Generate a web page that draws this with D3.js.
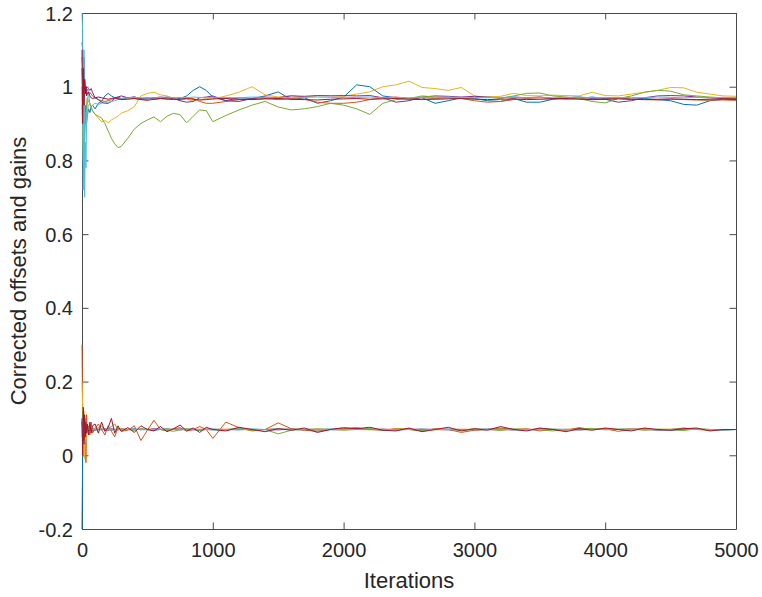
<!DOCTYPE html>
<html>
<head>
<meta charset="utf-8">
<script src="https://cdn.jsdelivr.net/npm/d3@7"></script>
<style>
  html, body { margin: 0; padding: 0; background: #fff; }
  svg { display: block; }
  text { font-family: "Liberation Sans", Arial, Helvetica, sans-serif; fill: #262626; }
</style>
</head>
<body>
<svg id="chart" width="762" height="597"></svg>
<script>
// ---------------- DATA ----------------
const iterations = [
  0, 5, 10, 15, 20, 25, 30, 35, 40, 50, 60, 70, 80, 100, 125, 150, 175, 200, 225, 250, 275, 300,
  350, 400, 450, 500, 550, 600, 650, 700, 750, 800, 850, 900, 950, 1000,
  1100, 1200, 1300, 1400, 1500, 1600, 1700, 1800, 1900, 2000,
  2100, 2200, 2300, 2400, 2500, 2600, 2700, 2800, 2900, 3000,
  3100, 3200, 3300, 3400, 3500, 3600, 3700, 3800, 3900, 4000,
  4100, 4200, 4300, 4400, 4500, 4600, 4700, 4800, 4900, 5000
];

const xTicks = [0, 1000, 2000, 3000, 4000, 5000];
const yTicks = [-0.2, 0, 0.2, 0.4, 0.6, 0.8, 1, 1.2];
const colors = ["#0072BD", "#D95319", "#EDB120", "#7E2F8E", "#77AC30", "#4DBEEE", "#A2142F"];

// gains (upper bundle)
const gainBlue = [
  1.05, 0.98, 0.80, 0.75, 0.85, 0.92, 0.95, 0.90, 0.92, 0.94, 0.93, 0.945, 0.95, 0.94, 0.955, 0.96, 0.975, 0.982, 0.975, 0.97, 0.972, 0.968,
  0.97, 0.972, 0.968, 0.97, 0.966, 0.968, 0.972, 0.97, 0.968, 0.975, 0.99, 1.0, 0.99, 0.972,
  0.962, 0.97, 0.968, 0.975, 0.986, 0.965, 0.97, 0.955, 0.962, 0.972,
  1.005, 1.0, 0.975, 0.97, 0.968, 0.97, 0.955, 0.962, 0.97, 0.968,
  0.962, 0.96, 0.968, 0.958, 0.958, 0.966, 0.97, 0.968, 0.972, 0.968,
  0.97, 0.966, 0.968, 0.965, 0.962, 0.952, 0.95, 0.962, 0.966, 0.965
];
const gainOrange = [
  1.08, 1.05, 1.0, 0.92, 1.02, 1.0, 0.99, 0.98, 0.985, 0.98, 0.985, 0.98, 0.975, 0.97, 0.965, 0.962, 0.96, 0.962, 0.965, 0.97, 0.968, 0.966,
  0.97, 0.968, 0.966, 0.968, 0.97, 0.968, 0.966, 0.968, 0.965, 0.97, 0.968, 0.96, 0.955, 0.955,
  0.96, 0.965, 0.966, 0.968, 0.965, 0.968, 0.966, 0.958, 0.955, 0.955,
  0.958, 0.965, 0.97, 0.972, 0.968, 0.97, 0.968, 0.97, 0.968, 0.962,
  0.958, 0.96, 0.965, 0.968, 0.97, 0.968, 0.966, 0.968, 0.965, 0.966,
  0.968, 0.966, 0.965, 0.964, 0.966, 0.965, 0.964, 0.963, 0.964, 0.963
];
const gainYellow = [
  0.95, 0.9, 0.88, 0.95, 0.92, 0.93, 0.9, 0.91, 0.93, 0.95, 0.955, 0.945, 0.935, 0.925, 0.915, 0.905, 0.908, 0.902, 0.91, 0.915, 0.92, 0.928,
  0.935, 0.946, 0.975, 0.982, 0.985, 0.978, 0.975, 0.968, 0.964, 0.966, 0.962, 0.964, 0.968, 0.966,
  0.975, 0.985, 1.0, 0.978, 0.972, 0.976, 0.972, 0.975, 0.976, 0.974,
  0.98, 0.986, 1.0, 1.005, 1.015, 0.998, 0.995, 0.99, 0.998, 0.975,
  0.972, 0.974, 0.982, 0.976, 0.975, 0.977, 0.976, 0.975, 0.985, 0.976,
  0.975, 0.98, 0.985, 0.99, 0.998, 0.997, 0.985, 0.98, 0.975, 0.974
];
const gainPurple = [
  1.12, 1.1, 1.05, 1.08, 1.02, 0.99, 1.0, 0.985, 0.99, 0.995, 0.99, 0.995, 0.985, 0.97, 0.965, 0.958, 0.955, 0.955, 0.96, 0.968, 0.972, 0.975,
  0.97, 0.972, 0.968, 0.966, 0.97, 0.972, 0.97, 0.968, 0.962, 0.958, 0.96, 0.97, 0.972, 0.975,
  0.962, 0.96, 0.968, 0.972, 0.97, 0.975, 0.974, 0.976, 0.975, 0.976,
  0.975, 0.976, 0.97, 0.958, 0.962, 0.972, 0.975, 0.974, 0.972, 0.974,
  0.972, 0.97, 0.972, 0.97, 0.972, 0.968, 0.97, 0.972, 0.968, 0.966,
  0.958, 0.962, 0.97, 0.975, 0.976, 0.975, 0.972, 0.97, 0.968, 0.968
];
const gainGreen = [
  1.0, 0.85, 0.8, 0.88, 0.95, 0.9, 0.93, 0.95, 0.97, 0.96, 0.955, 0.945, 0.935, 0.925, 0.92, 0.915, 0.9, 0.88, 0.86, 0.845, 0.835, 0.838,
  0.86, 0.885, 0.9, 0.91, 0.918, 0.905, 0.92, 0.928, 0.924, 0.902, 0.92, 0.937, 0.935, 0.905,
  0.922, 0.937, 0.95, 0.96, 0.945, 0.937, 0.94, 0.946, 0.955, 0.95,
  0.94, 0.925, 0.955, 0.965, 0.968, 0.975, 0.972, 0.97, 0.968, 0.97,
  0.972, 0.968, 0.975, 0.982, 0.983, 0.975, 0.972, 0.968, 0.96, 0.956,
  0.968, 0.975, 0.985, 0.99, 0.988, 0.978, 0.975, 0.972, 0.97, 0.97
];
const gainCyan = [
  1.2, 1.15, 0.72, 1.1, 0.7, 0.85, 0.78, 0.9, 0.95, 0.99, 0.95, 0.945, 0.95, 0.955, 0.952, 0.955, 0.956, 0.958, 0.96, 0.962, 0.965, 0.968,
  0.97, 0.971, 0.97, 0.969, 0.97, 0.971, 0.972, 0.97, 0.971, 0.97, 0.972, 0.971, 0.97, 0.971,
  0.971, 0.97, 0.972, 0.971, 0.97, 0.97, 0.971, 0.972, 0.971, 0.97,
  0.971, 0.972, 0.97, 0.971, 0.97, 0.971, 0.97, 0.972, 0.971, 0.97,
  0.97, 0.971, 0.972, 0.97, 0.971, 0.97, 0.971, 0.972, 0.97, 0.971,
  0.97, 0.971, 0.97, 0.972, 0.971, 0.97, 0.971, 0.97, 0.971, 0.97
];
const gainDarkRed = [
  1.1, 0.9, 1.05, 0.95, 1.02, 0.98, 1.0, 0.975, 0.98, 0.985, 0.975, 0.97, 0.968, 0.97, 0.972, 0.97, 0.968, 0.966, 0.968, 0.97, 0.967, 0.965,
  0.966, 0.968, 0.965, 0.963, 0.966, 0.968, 0.967, 0.965, 0.966, 0.968, 0.966, 0.964, 0.965, 0.967,
  0.968, 0.966, 0.965, 0.967, 0.968, 0.966, 0.965, 0.964, 0.966, 0.967,
  0.968, 0.966, 0.967, 0.968, 0.966, 0.965, 0.966, 0.967, 0.968, 0.966,
  0.965, 0.966, 0.967, 0.965, 0.966, 0.967, 0.968, 0.966, 0.965, 0.966,
  0.967, 0.966, 0.965, 0.966, 0.967, 0.966, 0.965, 0.966, 0.967, 0.966
];

// offsets (lower bundle)
const offsetBlue = [
  -0.2, 0.0, 0.1, 0.05, 0.08, 0.06, 0.075, 0.065, 0.07, 0.068, 0.072, 0.07, 0.066, 0.068, 0.071, 0.069, 0.072, 0.07, 0.068, 0.07, 0.071, 0.069,
  0.07, 0.072, 0.069, 0.071, 0.068, 0.07, 0.072, 0.07, 0.069, 0.071, 0.07, 0.068, 0.07, 0.071,
  0.07, 0.069, 0.071, 0.07, 0.072, 0.07, 0.069, 0.07, 0.071, 0.07,
  0.072, 0.07, 0.069, 0.071, 0.07, 0.068, 0.07, 0.071, 0.07, 0.069,
  0.07, 0.072, 0.07, 0.069, 0.071, 0.07, 0.069, 0.072, 0.07, 0.071,
  0.07, 0.069, 0.071, 0.07, 0.068, 0.07, 0.071, 0.07, 0.069, 0.07
];
const offsetOrange = [
  0.3, 0.12, 0.0, 0.1, 0.05, 0.09, -0.02, 0.11, 0.06, 0.08, 0.055, 0.09, 0.06, 0.072, 0.085, 0.07, 0.055, 0.08, 0.065, 0.05, 0.075, 0.065,
  0.068, 0.08, 0.04, 0.068, 0.095, 0.07, 0.066, 0.072, 0.075, 0.066, 0.07, 0.078, 0.07, 0.046,
  0.09, 0.075, 0.066, 0.07, 0.088, 0.072, 0.068, 0.065, 0.07, 0.072,
  0.075, 0.07, 0.068, 0.072, 0.07, 0.066, 0.072, 0.07, 0.062, 0.068,
  0.07, 0.074, 0.07, 0.072, 0.066, 0.07, 0.068, 0.075, 0.07, 0.072,
  0.065, 0.07, 0.072, 0.068, 0.07, 0.074, 0.07, 0.068, 0.07, 0.07
];
const offsetYellow = [
  0.2, 0.13, 0.0, 0.12, -0.01, 0.1, 0.04, 0.09, 0.06, 0.075, 0.065, 0.07, 0.072, 0.069, 0.07, 0.071, 0.07, 0.069, 0.07, 0.071, 0.07, 0.069,
  0.07, 0.07, 0.071, 0.069, 0.07, 0.07, 0.071, 0.07, 0.069, 0.07, 0.07, 0.071, 0.07, 0.07,
  0.071, 0.07, 0.069, 0.07, 0.071, 0.07, 0.07, 0.069, 0.07, 0.071,
  0.07, 0.069, 0.07, 0.071, 0.07, 0.07, 0.069, 0.07, 0.071, 0.07,
  0.07, 0.071, 0.069, 0.07, 0.07, 0.071, 0.07, 0.069, 0.07, 0.07,
  0.071, 0.07, 0.069, 0.07, 0.071, 0.07, 0.07, 0.069, 0.07, 0.07
];
const offsetPurple = [
  0.09, 0.05, 0.11, 0.03, 0.1, 0.06, 0.08, 0.07, 0.075, 0.065, 0.07, 0.068, 0.072, 0.07, 0.069, 0.071, 0.07, 0.068, 0.072, 0.07, 0.069, 0.071,
  0.07, 0.069, 0.071, 0.07, 0.072, 0.07, 0.069, 0.07, 0.071, 0.07, 0.069, 0.07, 0.071, 0.07,
  0.069, 0.071, 0.07, 0.07, 0.069, 0.071, 0.07, 0.069, 0.07, 0.071,
  0.07, 0.07, 0.071, 0.069, 0.07, 0.071, 0.07, 0.069, 0.07, 0.07,
  0.071, 0.07, 0.069, 0.07, 0.071, 0.07, 0.07, 0.069, 0.071, 0.07,
  0.07, 0.071, 0.07, 0.069, 0.07, 0.071, 0.07, 0.07, 0.069, 0.07
];
const offsetGreen = [
  0.08, 0.12, 0.05, 0.1, 0.04, 0.085, 0.06, 0.08, 0.065, 0.075, 0.07, 0.068, 0.072, 0.07, 0.075, 0.08, 0.068, 0.072, 0.078, 0.085, 0.07, 0.072,
  0.07, 0.068, 0.072, 0.07, 0.069, 0.07, 0.068, 0.065, 0.07, 0.072, 0.07, 0.068, 0.07, 0.069,
  0.07, 0.072, 0.068, 0.07, 0.058, 0.068, 0.07, 0.072, 0.07, 0.068,
  0.07, 0.073, 0.068, 0.07, 0.072, 0.067, 0.071, 0.07, 0.068, 0.072,
  0.07, 0.067, 0.072, 0.07, 0.069, 0.066, 0.071, 0.07, 0.073, 0.069,
  0.07, 0.072, 0.068, 0.071, 0.07, 0.067, 0.072, 0.07, 0.069, 0.07
];
const offsetCyan = [
  0.05, 0.1, 0.07, 0.09, 0.06, 0.075, 0.065, 0.072, 0.068, 0.07, 0.071, 0.069, 0.07, 0.071, 0.07, 0.069, 0.07, 0.071, 0.07, 0.07, 0.069, 0.07,
  0.071, 0.07, 0.07, 0.069, 0.07, 0.071, 0.07, 0.07, 0.069, 0.07, 0.071, 0.07, 0.07, 0.069,
  0.07, 0.071, 0.07, 0.069, 0.07, 0.07, 0.071, 0.07, 0.069, 0.07,
  0.07, 0.071, 0.07, 0.069, 0.07, 0.071, 0.07, 0.07, 0.069, 0.07,
  0.071, 0.07, 0.069, 0.07, 0.07, 0.071, 0.07, 0.069, 0.07, 0.07,
  0.071, 0.07, 0.07, 0.069, 0.07, 0.071, 0.07, 0.07, 0.069, 0.07
];
const offsetDarkRed = [
  0.1, 0.0, 0.13, 0.04, 0.11, 0.05, 0.09, 0.06, 0.085, 0.055, 0.09, 0.06, 0.08, 0.085, 0.06, 0.09, 0.065, 0.075, 0.1, 0.06, 0.08, 0.065,
  0.075, 0.062, 0.08, 0.07, 0.066, 0.078, 0.064, 0.072, 0.082, 0.066, 0.074, 0.062, 0.076, 0.07,
  0.066, 0.076, 0.07, 0.064, 0.072, 0.068, 0.074, 0.062, 0.07, 0.075,
  0.072, 0.076, 0.068, 0.066, 0.074, 0.064, 0.07, 0.076, 0.066, 0.072,
  0.068, 0.078, 0.07, 0.066, 0.074, 0.07, 0.064, 0.072, 0.068, 0.074,
  0.07, 0.066, 0.074, 0.07, 0.068, 0.072, 0.074, 0.066, 0.07, 0.07
];

const gainSeries = [gainBlue, gainOrange, gainYellow, gainPurple, gainGreen, gainCyan, gainDarkRed];
const offsetSeries = [offsetBlue, offsetOrange, offsetYellow, offsetPurple, offsetGreen, offsetCyan, offsetDarkRed];

// ---------------- CHART ----------------
const svg = d3.select("#chart");
const L = 82, R = 736, T = 13, B = 529;
const x = d3.scaleLinear().domain([0, 5000]).range([L, R]);
const y = d3.scaleLinear().domain([-0.2, 1.2]).range([B, T]);

svg.append("defs").append("clipPath").attr("id", "clip")
  .append("rect").attr("x", L - 1).attr("y", T - 1).attr("width", R - L + 2).attr("height", B - T + 2);

const axisColor = "#262626";
const lineColor = "#4a4a4a";
const tickLen = 6.5;

// axes with inward ticks
const gx = svg.append("g").attr("transform", `translate(0,${B})`)
  .call(d3.axisBottom(x).tickValues(xTicks).tickSizeInner(-tickLen).tickSizeOuter(0).tickPadding(14).tickFormat(d3.format("d")));
const gy = svg.append("g").attr("transform", `translate(${L},0)`)
  .call(d3.axisLeft(y).tickValues(yTicks).tickSizeInner(-tickLen).tickSizeOuter(0).tickPadding(9)
    .tickFormat(d => (d === 0 ? "0" : (Math.abs(d - 1) < 1e-9 ? "1" : d3.format(".1f")(d))).replace("\u2212", "-")));
const gxt = svg.append("g").attr("transform", `translate(0,${T})`)
  .call(d3.axisTop(x).tickValues(xTicks).tickSizeInner(-tickLen).tickSizeOuter(0).tickFormat(""));
const gyr = svg.append("g").attr("transform", `translate(${R},0)`)
  .call(d3.axisRight(y).tickValues(yTicks).tickSizeInner(-tickLen).tickSizeOuter(0).tickFormat(""));

[gx, gy, gxt, gyr].forEach(g => {
  g.select(".domain").attr("stroke", lineColor).attr("stroke-width", 1);
  g.selectAll(".tick line").attr("stroke", lineColor).attr("stroke-width", 1);
  g.selectAll(".tick text").attr("fill", axisColor).style("font-size", "20px")
    .style("font-family", '"Liberation Sans", Arial, sans-serif');
});
gy.selectAll(".tick text").attr("dy", "0.35em");
gx.selectAll(".tick text").attr("dy", "0.71em");

// lines (drawn above the axes)
const line = d3.line()
  .defined(d => d[1] !== undefined)
  .x(d => x(d[0])).y(d => y(d[1]));

const plot = svg.append("g").attr("clip-path", "url(#clip)");
function drawGroup(series) {
  series.forEach((vals, i) => {
    plot.append("path")
      .datum(iterations.map((it, k) => [it, vals[k]]))
      .attr("fill", "none")
      .attr("stroke", colors[i % colors.length])
      .attr("stroke-width", 1)
      .attr("stroke-linejoin", "round")
      .attr("d", line);
  });
}
drawGroup(gainSeries);
drawGroup(offsetSeries);

svg.append("text")
  .attr("x", (L + R) / 2).attr("y", 588)
  .attr("text-anchor", "middle")
  .style("font-size", "22px")
  .text("Iterations");

svg.append("text")
  .attr("transform", `translate(26,${(T + B) / 2}) rotate(-90)`)
  .attr("text-anchor", "middle")
  .style("font-size", "22px")
  .text("Corrected offsets and gains");
</script>
</body>
</html>
